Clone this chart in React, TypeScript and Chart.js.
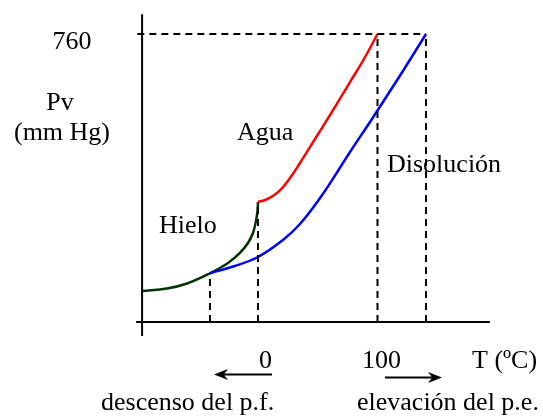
import React, { useEffect, useRef } from "react";
import { Chart, registerables } from "chart.js";

Chart.register(...registerables);

// Ice (solid) vapour pressure curve
const iceT = [-97.1, -76.2, -59.4, -40.2, -25.1, -15.1, -8.4, -4.2, -1.7, -0.4, 0];
const iceP = [81.8, 88.4, 101.6, 128.5, 155.7, 182.1, 208.5, 234.9, 266.5, 292.9, 316.7];
// Pure water curve
const waterT = [0, 5.9, 11.7, 18.4, 26.8, 35.1, 47.7, 62.8, 77, 88.7, 100];
const waterP = [316.7, 322, 331.2, 347, 379.9, 419.5, 482.8, 559.3, 633.2, 694, 760];
// Solution curve
const solT = [-40.2, -20.9, 0, 20.9, 35.1, 51.9, 66.9, 77, 95.4, 110.5, 121.3, 140.6];
const solP = [128.5, 146.4, 171.5, 216.4, 258.6, 327.2, 398.5, 448.6, 535.7, 609.5, 662.3, 760];

// Reference values
const atmP = 760;
const freezeWater = 0;
const boilWater = 100;
const freezeSol = -40.2;
const boilSol = 140.6;
const freezeSolP = 128.5;
const triplePointP = 316.7;

// Axes extents (data units)
const axisOriginT = -97;
const axisTRange = [-102, 194];
const axisPRange = [-37, 812];

const FONT = "26px 'Liberation Serif', 'Times New Roman', Times, serif";

const pts = (xs: number[], ys: number[]) => xs.map((x, i) => ({ x, y: ys[i] }));

export default function App() {
  const ref = useRef<HTMLCanvasElement | null>(null);

  useEffect(() => {
    document.body.style.margin = "0";
    const canvas = ref.current;
    if (!canvas) return;

    const dashed = (data: { x: number; y: number }[]) => ({
      data,
      borderColor: "#000000",
      borderWidth: 2,
      borderDash: [7, 5],
      pointRadius: 0,
      tension: 0,
      fill: false,
    });
    const solid = (data: { x: number; y: number }[], color: string, w = 2) => ({
      data,
      borderColor: color,
      borderWidth: w,
      pointRadius: 0,
      tension: 0,
      fill: false,
    });
    const curve = (data: { x: number; y: number }[], color: string) => ({
      data,
      borderColor: color,
      borderWidth: 2.5,
      pointRadius: 0,
      tension: 0.4,
      fill: false,
    });

    const labelsPlugin = {
      id: "labels",
      afterDatasetsDraw(chart: any) {
        const ctx = chart.ctx as CanvasRenderingContext2D;
        ctx.save();
        ctx.fillStyle = "#000";
        ctx.font = FONT;
        ctx.textBaseline = "alphabetic";
        ctx.textAlign = "center";
        ctx.fillText(String(atmP), 72, 49);
        ctx.fillText("Pv", 60, 110);
        ctx.fillText("(mm Hg)", 62, 140);
        ctx.textAlign = "left";
        ctx.fillText("Agua", 237, 140);
        ctx.fillText("Disolución", 387, 172);
        ctx.fillText("Hielo", 159, 233);
        ctx.fillText(String(freezeWater), 259, 368);
        ctx.fillText(String(boilWater), 362, 368);
        ctx.fillText("T (ºC)", 472, 368);
        ctx.fillText("descenso del p.f.", 101, 410);
        ctx.fillText("elevación del p.e.", 357, 410);

        const arrow = (x1: number, x2: number, y: number) => {
          const dir = Math.sign(x2 - x1);
          const headLen = 14;
          ctx.strokeStyle = "#000";
          ctx.lineWidth = 2;
          ctx.beginPath();
          ctx.moveTo(x1, y);
          ctx.lineTo(x2 - dir * headLen * 0.6, y);
          ctx.stroke();
          ctx.beginPath();
          ctx.moveTo(x2, y);
          ctx.lineTo(x2 - dir * headLen, y - 5.5);
          ctx.lineTo(x2 - dir * headLen * 0.7, y);
          ctx.lineTo(x2 - dir * headLen, y + 5.5);
          ctx.closePath();
          ctx.fill();
        };
        arrow(272, 214, 374.5);
        arrow(385, 442, 377.5);
        ctx.restore();
      },
    };

    const chart = new Chart(canvas, {
      type: "line",
      data: {
        datasets: [
          // axes
          solid(pts([axisOriginT, axisOriginT], axisPRange), "#000", 2),
          solid(pts(axisTRange, [0, 0]), "#000", 2),
          // dashed guides
          dashed(pts([-101, boilSol], [atmP, atmP])),
          dashed(pts([freezeSol, freezeSol], [0, freezeSolP])),
          dashed(pts([freezeWater, freezeWater], [0, triplePointP])),
          dashed(pts([boilWater, boilWater], [0, atmP])),
          dashed(pts([boilSol, boilSol], [0, atmP])),
          // curves
          curve(pts(solT, solP), "#0000ff"),
          curve(pts(waterT, waterP), "#ff0000"),
          curve(pts(iceT, iceP), "#003300"),
        ] as any,
      },
      options: {
        responsive: false,
        animation: false,
        layout: { padding: 0 },
        plugins: { legend: { display: false }, tooltip: { enabled: false } },
        scales: {
          x: { type: "linear", display: false, min: -215.9, max: 238.5 },
          y: { type: "linear", display: false, min: -248.1, max: 849.7 },
        },
      },
      plugins: [labelsPlugin],
    });

    return () => chart.destroy();
  }, []);

  return (
    <div style={{ position: "fixed", left: 0, top: 0, width: 543, height: 416, background: "#fff" }}>
      <canvas ref={ref} width={543} height={416} style={{ width: 543, height: 416 }} />
    </div>
  );
}
